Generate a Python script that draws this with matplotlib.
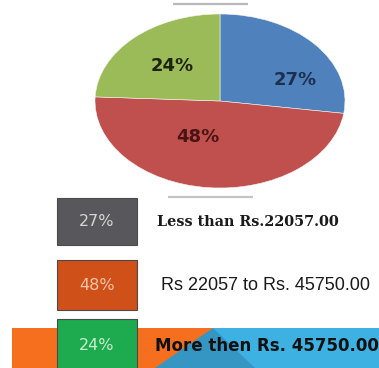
import matplotlib
matplotlib.use('Agg')
import matplotlib.pyplot as plt
from matplotlib.patches import Rectangle, Polygon

# Distribuição por faixa de renda
shares = [27, 48, 24]
ranges = ['Less than Rs.22057.00', 'Rs 22057 to Rs. 45750.00', 'More then Rs. 45750.00']
pie_colors = ['#4f81bd', '#c0504d', '#9bbb59']
pct_colors = ['#1c2f4f', '#4a1414', '#1c2410']
box_colors = ['#58585c', '#d0501a', '#1eaa4f']
box_text_colors = ['#d4d4d4', '#f2c6a6', '#c8f0cc']

W, H = 379, 368
fig = plt.figure(figsize=(W / 100, H / 100), dpi=100)
fig.patch.set_facecolor('white')

# fundo em coordenadas de pixel
bg = fig.add_axes([0, 0, 1, 1])
bg.set_xlim(0, W)
bg.set_ylim(H, 0)
bg.axis('off')

# linhas cinza finas
bg.plot([173, 248], [4, 4], color='#b8b8b8', lw=1.6, solid_capstyle='butt')
bg.plot([168, 253], [197, 197], color='#c4c4c4', lw=1.6, solid_capstyle='butt')

# faixa laranja/azul no rodapé
bg.add_patch(Rectangle((12, 328), W - 12, H - 328, facecolor='#3db2e2', edgecolor='none'))
bg.add_patch(Polygon([(213, 328), (150, H), (255, H)], closed=True,
                     facecolor='#3596c4', edgecolor='none'))
bg.add_patch(Polygon([(12, 328), (213, 328), (155, H), (12, H)], closed=True,
                     facecolor='#f56f1e', edgecolor='none'))

# caixas da legenda
box_tops = [198, 260, 319]
box_heights = [47, 50, 60]
text_y = [222, 285, 346]
for i, s in enumerate(shares):
    bg.add_patch(Rectangle((57, box_tops[i]), 80, box_heights[i],
                           facecolor=box_colors[i], edgecolor='#4a4a4a', lw=0.8))
    bg.text(97, text_y[i], f'{s}%', ha='center', va='center', fontsize=11.5,
            color=box_text_colors[i], family='DejaVu Sans')

bg.text(157, 222, ranges[0], ha='left', va='center', fontsize=10.4,
        fontweight='bold', family='DejaVu Serif', color='#1a1a1a')
bg.text(161, 285, ranges[1], ha='left', va='center', fontsize=13,
        family='Liberation Sans', color='#1a1a1a')
bg.text(155, 346, ranges[2], ha='left', va='center', fontsize=12,
        fontweight='bold', family='DejaVu Sans', color='#111111')

# gráfico de pizza (elíptico)
ax = fig.add_axes([95 / W, 1 - 188 / H, 250 / W, 174 / H])
ax.pie(shares, colors=pie_colors, startangle=90, counterclock=False,
       wedgeprops={'linewidth': 0.4, 'edgecolor': '#f4f4f4'})
ax.set_aspect('auto')
ax.set_xlim(-1, 1)
ax.set_ylim(-1, 1)
ax.axis('off')

label_pos = [(0.6, 0.24), (-0.18, -0.41), (-0.38, 0.40)]
for (x, y), s, c in zip(label_pos, shares, pct_colors):
    ax.text(x, y, f'{s}%', ha='center', va='center', fontsize=13,
            fontweight='heavy', color=c)

fig.savefig('out.png', dpi=100)
